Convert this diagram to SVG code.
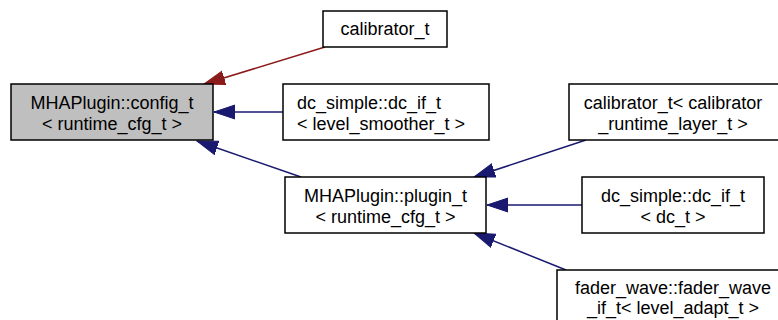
<svg xmlns="http://www.w3.org/2000/svg" width="778" height="320" viewBox="0 0 778 320">
<style>
.box{fill:#ffffff;stroke:#000000;stroke-width:1.5}
.base{fill:#bfbfbf;stroke:#000000;stroke-width:1.5}
text{font-family:"Liberation Sans",Arial,sans-serif;font-size:18px;fill:#000000}
.c{text-anchor:middle}
.blue{stroke:#191970;stroke-width:1.5;fill:none;marker-end:url(#ab)}
.red{stroke:#8b1a1a;stroke-width:1.5;fill:none;marker-end:url(#ar)}
</style>
<defs>
<marker id="ab" markerUnits="userSpaceOnUse" markerWidth="22" markerHeight="16" viewBox="0 -8 22 16" refX="21" refY="0" orient="auto"><path d="M0,-7 L21,0 L0,7 z" fill="#191970" stroke="#191970"/></marker>
<marker id="ar" markerUnits="userSpaceOnUse" markerWidth="22" markerHeight="16" viewBox="0 -8 22 16" refX="21" refY="0" orient="auto"><path d="M0,-7 L21,0 L0,7 z" fill="#8b1a1a" stroke="#8b1a1a"/></marker>
</defs>
<g id="connectors">
<line class="red" x1="325" y1="47" x2="204" y2="84"/>
<line class="blue" x1="283" y1="112" x2="214" y2="112"/>
<line class="blue" x1="301" y1="177" x2="197" y2="141"/>
<line class="blue" x1="586" y1="140" x2="474" y2="177"/>
<line class="blue" x1="582" y1="205" x2="487" y2="205"/>
<line class="blue" x1="566" y1="270" x2="474" y2="233"/>
</g>
<g id="config_t">
<rect class="base" x="11" y="84" width="202" height="56"/>
<text class="c" x="112" y="109">MHAPlugin::config_t</text>
<text class="c" x="112" y="130">&lt; runtime_cfg_t &gt;</text>
</g>
<g id="calibrator_t">
<rect class="box" x="323" y="11" width="124" height="36"/>
<text class="c" x="385" y="35">calibrator_t</text>
</g>
<g id="dc_if_level_smoother">
<rect class="box" x="283" y="84" width="206" height="56"/>
<text x="297" y="109">dc_simple::dc_if_t</text>
<text x="297" y="130">&lt; level_smoother_t &gt;</text>
</g>
<g id="plugin_t">
<rect class="box" x="285" y="177" width="201" height="56"/>
<text class="c" x="385.5" y="202">MHAPlugin::plugin_t</text>
<text class="c" x="385.5" y="223">&lt; runtime_cfg_t &gt;</text>
</g>
<g id="calibrator_runtime_layer">
<rect class="box" x="569" y="84" width="211" height="56"/>
<text class="c" x="673" y="109">calibrator_t&lt; calibrator</text>
<text class="c" x="673" y="130">_runtime_layer_t &gt;</text>
</g>
<g id="dc_if_dc_t">
<rect class="box" x="582" y="177" width="182" height="56"/>
<text class="c" x="673" y="202">dc_simple::dc_if_t</text>
<text class="c" x="673" y="223">&lt; dc_t &gt;</text>
</g>
<g id="fader_wave">
<rect class="box" x="557" y="270" width="232" height="60"/>
<text class="c" x="673" y="294">fader_wave::fader_wave</text>
<text class="c" x="673" y="314">_if_t&lt; level_adapt_t &gt;</text>
</g>
</svg>
